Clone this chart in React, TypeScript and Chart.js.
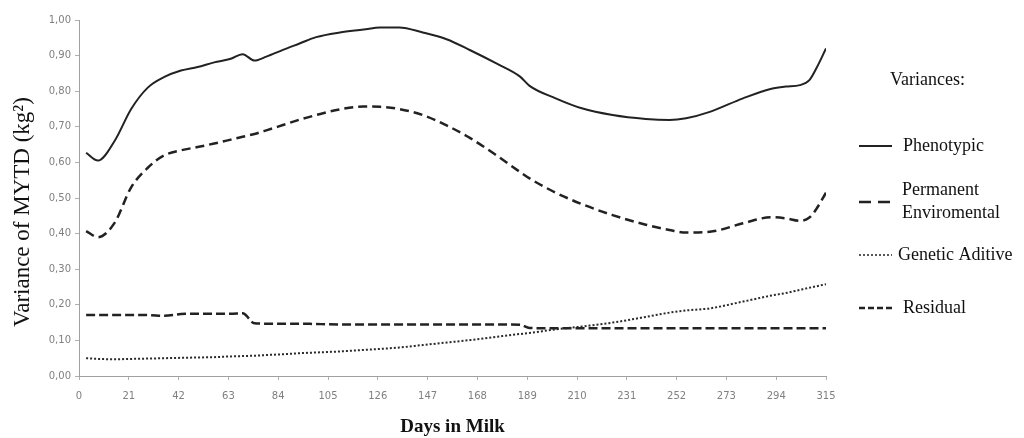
import React, { useEffect, useRef } from "react";
import { Chart, registerables } from "chart.js";

Chart.register(...registerables);

const days = [3, 8, 15, 22, 29, 36, 43, 50, 57, 64, 69, 74, 79, 86, 93, 100, 110, 120, 127, 135, 145, 155, 165, 176, 186, 190, 201, 212, 225, 239, 249, 256, 266, 280, 292, 298, 304, 308, 311, 315];

const phenotypic = [0.627, 0.605, 0.66, 0.75, 0.81, 0.84, 0.858, 0.868, 0.881, 0.891, 0.904, 0.886, 0.897, 0.916, 0.934, 0.952, 0.965, 0.973, 0.979, 0.979, 0.965, 0.946, 0.915, 0.878, 0.841, 0.815, 0.78, 0.752, 0.733, 0.722, 0.719, 0.724, 0.742, 0.78, 0.807, 0.813, 0.817, 0.831, 0.865, 0.92];

const permanent = [0.407, 0.39, 0.43, 0.53, 0.585, 0.62, 0.634, 0.643, 0.653, 0.664, 0.672, 0.68, 0.69, 0.705, 0.72, 0.733, 0.749, 0.757, 0.756, 0.75, 0.733, 0.704, 0.668, 0.62, 0.573, 0.555, 0.515, 0.483, 0.452, 0.425, 0.41, 0.403, 0.405, 0.429, 0.446, 0.443, 0.436, 0.445, 0.47, 0.515];

const genetic = [0.05, 0.048, 0.047, 0.048, 0.049, 0.05, 0.051, 0.052, 0.053, 0.055, 0.056, 0.057, 0.059, 0.061, 0.064, 0.066, 0.069, 0.073, 0.076, 0.08, 0.087, 0.094, 0.101, 0.11, 0.118, 0.121, 0.131, 0.139, 0.15, 0.166, 0.178, 0.184, 0.19, 0.209, 0.226, 0.233, 0.242, 0.248, 0.252, 0.258];

const residual = [0.171, 0.171, 0.171, 0.171, 0.171, 0.169, 0.174, 0.175, 0.175, 0.175, 0.176, 0.148, 0.147, 0.147, 0.147, 0.146, 0.145, 0.145, 0.145, 0.145, 0.145, 0.145, 0.145, 0.145, 0.144, 0.135, 0.134, 0.134, 0.134, 0.134, 0.134, 0.134, 0.134, 0.134, 0.134, 0.134, 0.134, 0.134, 0.134, 0.134];

const legendTitle = "Variances:";
const legendItems = [
  { lines: ["Phenotypic"], dash: [] as number[], width: 2 },
  { lines: ["Permanent", "Enviromental"], dash: [12, 7], width: 2.5 },
  { lines: ["Genetic Aditive"], dash: [2, 2], width: 1.5 },
  { lines: ["Residual"], dash: [6, 3], width: 2.5 },
];

const xTitle = "Days in Milk";
const yTitle = "Variance of MYTD (kg²)";

const LINE = "#222222";

const textPlugin = {
  id: "customText",
  afterDraw(chart: any) {
    const ctx = chart.ctx;
    ctx.save();
    ctx.fillStyle = "#111";
    ctx.textBaseline = "middle";
    ctx.textAlign = "left";
    ctx.font = "18px 'Liberation Serif', serif";
    ctx.fillText(legendTitle, 890, 80);
    const rows = [146, 202, 255, 308];
    legendItems.forEach((it, i) => {
      const y = rows[i];
      ctx.beginPath();
      ctx.setLineDash(it.dash);
      ctx.lineWidth = it.width;
      ctx.strokeStyle = LINE;
      ctx.moveTo(859, y);
      ctx.lineTo(892, y);
      ctx.stroke();
      ctx.setLineDash([]);
      if (it.lines.length === 1) {
        ctx.fillText(it.lines[0], i === 2 ? 898 : 903, y);
      } else {
        ctx.fillText(it.lines[0], 902, y - 12);
        ctx.fillText(it.lines[1], 902, y + 11);
      }
    });
    // y-axis title
    ctx.translate(23, 212);
    ctx.rotate(-Math.PI / 2);
    ctx.textAlign = "center";
    ctx.font = "23px 'Liberation Serif', serif";
    ctx.fillText(yTitle, 0, 0);
    ctx.restore();
  },
};

export default function App() {
  const ref = useRef<HTMLCanvasElement>(null);
  useEffect(() => {
    if (!ref.current) return;
    const mk = (vals: number[]) => days.map((d, i) => ({ x: d, y: vals[i] }));
    const chart = new Chart(ref.current, {
      type: "line",
      data: {
        datasets: [
          { label: "Phenotypic", data: mk(phenotypic), borderColor: LINE, borderWidth: 2, pointRadius: 0, cubicInterpolationMode: "monotone" },
          { label: "Permanent Enviromental", data: mk(permanent), borderColor: LINE, borderWidth: 2.5, borderDash: [9, 5], pointRadius: 0, cubicInterpolationMode: "monotone" },
          { label: "Genetic Aditive", data: mk(genetic), borderColor: "#2a2a2a", borderWidth: 2, borderDash: [2, 2], pointRadius: 0, cubicInterpolationMode: "monotone" },
          { label: "Residual", data: mk(residual), borderColor: LINE, borderWidth: 2.5, borderDash: [9, 4], pointRadius: 0, cubicInterpolationMode: "monotone" },
        ],
      },
      options: {
        animation: false,
        responsive: false,
        maintainAspectRatio: false,
        layout: { padding: { top: 20, right: 198, left: 0, bottom: 0 } },
        plugins: { legend: { display: false }, tooltip: { enabled: false } },
        scales: {
          x: {
            type: "linear",
            min: 0,
            max: 315,
            afterFit: (s: any) => { s.height = 62; },
            ticks: { stepSize: 21, padding: 10, color: "#808080", font: { family: "'DejaVu Sans', sans-serif", size: 10 }, maxRotation: 0, autoSkip: false },
            grid: { display: true, drawOnChartArea: false, drawTicks: true, tickLength: 4, color: "#b0b0b0" },
            border: { display: true, color: "#a0a0a0", width: 1 },
            title: { display: true, text: xTitle, color: "#111", font: { family: "'Liberation Serif', serif", size: 19, weight: "bold" }, padding: { top: 0, bottom: 0 } },
          },
          y: {
            min: 0,
            max: 1,
            afterFit: (s: any) => { s.width = 79; },
            ticks: { stepSize: 0.1, padding: 4, color: "#808080", font: { family: "'DejaVu Sans', sans-serif", size: 10 }, callback: (v: any) => Number(v).toFixed(2).replace(".", ",") },
            grid: { display: true, drawOnChartArea: false, drawTicks: true, tickLength: 4, color: "#b0b0b0" },
            border: { display: true, color: "#a0a0a0", width: 1 },
            title: { display: false },
          },
        },
      },
      plugins: [textPlugin],
    });
    return () => chart.destroy();
  }, []);
  return (
    <div style={{ position: "fixed", left: 0, top: 0, width: 1024, height: 438, background: "#fff" }}>
      <canvas ref={ref} width={1024} height={438} style={{ width: 1024, height: 438, display: "block" }} />
    </div>
  );
}
